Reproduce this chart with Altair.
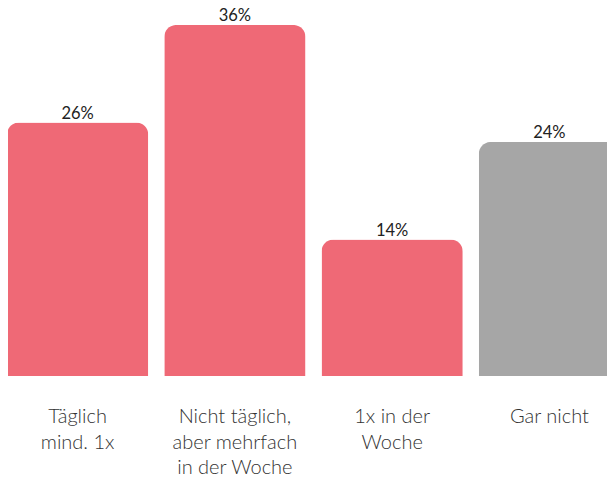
import altair as alt
import pandas as pd

categories = ["Täglich\nmind. 1x", "Nicht täglich,\naber mehrfach\nin der Woche", "1x in der\nWoche", "Gar nicht"]
values = [26, 36, 14, 24]
labels = ["26%", "36%", "14%", "24%"]
groups = ["ja", "ja", "ja", "nein"]

df = pd.DataFrame({"cat": categories, "value": values, "label": labels, "group": groups})

x = alt.X("cat:N", sort=categories, axis=None,
          scale=alt.Scale(range=[-1, 612], paddingInner=0.102, paddingOuter=0))
y = alt.Y("value:Q", axis=None, scale=alt.Scale(domain=[0, 37.74], range=[368, 0], nice=False, zero=True))

bars = alt.Chart(df).mark_bar(cornerRadiusTopLeft=12, cornerRadiusTopRight=12).encode(
    x=x, y=y,
    color=alt.Color("group:N", scale=alt.Scale(domain=["ja", "nein"], range=["#EF6976", "#A6A6A6"]), legend=None),
)

vals = alt.Chart(df).mark_text(baseline="alphabetic", dy=-3.5, fontSize=16.5, font="Lato", color="#222222").encode(
    x=x, y=y, text="label:N")

cats = alt.Chart(df).mark_text(baseline="alphabetic", fontSize=20, font="Lato", fontWeight=300,
                               color="#333333", lineBreak="\n", lineHeight=25.5).encode(
    x=x, y=alt.value(415), text="cat:N")

chart = alt.layer(bars, vals, cats).properties(
    width=599, height=472, padding=0, autosize=alt.AutoSizeParams(type="none")
).configure_view(stroke=None)

chart.save("out.html", embed_options={"renderer": "svg", "actions": False})
